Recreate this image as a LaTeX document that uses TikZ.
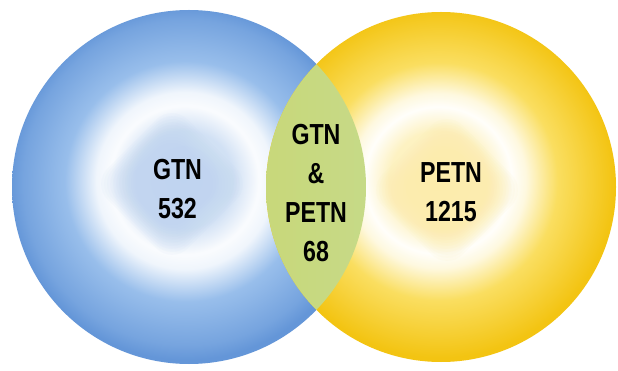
\documentclass[tikz,border=0pt]{standalone}
\usepackage{fontspec}
\setmainfont[FakeStretch=0.8]{Liberation Sans}
\definecolor{bluerim}{RGB}{100,150,216}
\definecolor{bluemid}{RGB}{152,190,235}
\definecolor{blueinner}{RGB}{190,212,240}
\definecolor{yellowrim}{RGB}{243,196,18}
\definecolor{yellowmid}{RGB}{250,222,96}
\definecolor{yellowinner}{RGB}{252,236,168}
\definecolor{lensleft}{RGB}{200,216,122}
\definecolor{lensright}{RGB}{194,222,168}
\pgfdeclareradialshading{blueglow}{\pgfpoint{-0.8bp}{1.2bp}}{%
  color(0bp)=(blueinner!80!white); color(7bp)=(blueinner!70!white);
  color(10.5bp)=(white!92!blueinner); color(12.5bp)=(white!85!bluemid);
  color(17bp)=(bluemid); color(23bp)=(bluerim!65!bluemid);
  color(25bp)=(bluerim); color(50bp)=(bluerim)}
\pgfdeclareradialshading{yellowglow}{\pgfpoint{-0.5bp}{1.2bp}}{%
  color(0bp)=(yellowinner!80!white); color(7bp)=(yellowinner!70!white);
  color(10.5bp)=(white!95!yellowinner); color(12.5bp)=(white!80!yellowmid);
  color(17bp)=(yellowmid); color(23bp)=(yellowrim!75!yellowmid);
  color(25bp)=(yellowrim); color(50bp)=(yellowrim)}
\tikzset{
  label/.style={font=\fontsize{29}{39}\selectfont\bfseries, text=black,
    align=center, inner sep=0pt, anchor=center},
  softdiamond/.style={opacity=0.08, rounded corners=22pt}
}
\begin{document}
\begin{tikzpicture}[x=1pt,y=-1pt]
\useasboundingbox (0,0) rectangle (618,371);
\fill[white] (0,0) rectangle (618,371);
\coordinate (bc) at (189,187);
\coordinate (yc) at (441,187);
% blue circle
\shade[shading=blueglow] (bc) circle[radius=177pt];
\foreach \s in {80,77,...,50}{
  \fill[blueinner, softdiamond]
    (172,184) ++(-\s,0) -- ++(\s,-\s) -- ++(\s,\s) -- ++(-\s,\s) -- cycle;
}
% yellow circle
\shade[shading=yellowglow] (yc) circle[radius=175pt];
\foreach \s in {80,77,...,50}{
  \fill[yellowinner, softdiamond]
    (447,190) ++(-\s,0) -- ++(\s,-\s) -- ++(\s,\s) -- ++(-\s,\s) -- cycle;
}
% lens
\begin{scope}
  \clip (bc) circle[radius=177pt];
  \shade[left color=lensleft, right color=lensright] (yc) circle[radius=175pt];
\end{scope}
% labels
\node[label] (gtn) at (177.5,189) {GTN\\532};
\node[label] (both) at (316,193) {GTN\\\&\\PETN\\68};
\node[label] (petn) at (451,192) {PETN\\1215};
\end{tikzpicture}
\end{document}
